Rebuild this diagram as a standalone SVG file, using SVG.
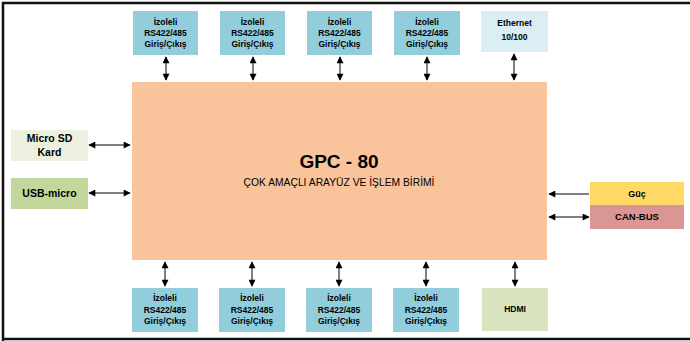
<svg xmlns="http://www.w3.org/2000/svg" width="690" height="341" viewBox="0 0 690 341">
<defs>
<marker id="ah" viewBox="0 0 10 10" refX="9" refY="5" markerWidth="8" markerHeight="7" markerUnits="userSpaceOnUse" orient="auto-start-reverse">
<path d="M0,0 L10,5 L0,10 z" fill="#000"/>
</marker>
<style>
.t{font-family:"Liberation Sans",Arial,sans-serif;font-weight:bold;text-anchor:middle;fill:#000}
.s8{font-size:8.5px}
.io{fill:#92CDDC}
.c{stroke:#000;stroke-width:1;fill:none;marker-end:url(#ah)}
.d{marker-start:url(#ah)}
</style>
</defs>
<rect width="690" height="341" fill="#fff"/>
<path d="M3,341 V3 H690 M3,339 H690" fill="none" stroke="#111" stroke-width="2.5"/>

<g id="main">
<rect x="132" y="82" width="415" height="178" fill="#F9C49B"/>
<text class="t" x="339" y="168" font-size="19">GPC - 80</text>
<text x="339" y="186" font-family="Liberation Sans,Arial,sans-serif" font-size="10.3" text-anchor="middle">ÇOK AMAÇLI ARAYÜZ VE İŞLEM BİRİMİ</text>
</g>

<g id="top1"><rect class="io" x="133" y="11" width="65" height="44"/><text class="t s8" x="165.5" y="25">İzoleli</text><text class="t s8" x="165.5" y="36">RS422/485</text><text class="t s8" x="165.5" y="47">Giriş/Çıkış</text></g>
<g id="top2"><rect class="io" x="220" y="11" width="65" height="44"/><text class="t s8" x="252.5" y="25">İzoleli</text><text class="t s8" x="252.5" y="36">RS422/485</text><text class="t s8" x="252.5" y="47">Giriş/Çıkış</text></g>
<g id="top3"><rect class="io" x="307" y="11" width="65" height="44"/><text class="t s8" x="339.5" y="25">İzoleli</text><text class="t s8" x="339.5" y="36">RS422/485</text><text class="t s8" x="339.5" y="47">Giriş/Çıkış</text></g>
<g id="top4"><rect class="io" x="394" y="11" width="66" height="44"/><text class="t s8" x="427" y="25">İzoleli</text><text class="t s8" x="427" y="36">RS422/485</text><text class="t s8" x="427" y="47">Giriş/Çıkış</text></g>
<g id="ethernet"><rect x="481" y="11" width="67" height="41" fill="#DAEEF3"/><text class="t s8" x="514.5" y="26">Ethernet</text><text class="t s8" x="514.5" y="40">10/100</text></g>

<g id="bot1"><rect class="io" x="132" y="288" width="66" height="44"/><text class="t s8" x="165" y="301">İzoleli</text><text class="t s8" x="165" y="313">RS422/485</text><text class="t s8" x="165" y="324">Giriş/Çıkış</text></g>
<g id="bot2"><rect class="io" x="219" y="288" width="66" height="44"/><text class="t s8" x="252" y="301">İzoleli</text><text class="t s8" x="252" y="313">RS422/485</text><text class="t s8" x="252" y="324">Giriş/Çıkış</text></g>
<g id="bot3"><rect class="io" x="306" y="288" width="66" height="44"/><text class="t s8" x="339" y="301">İzoleli</text><text class="t s8" x="339" y="313">RS422/485</text><text class="t s8" x="339" y="324">Giriş/Çıkış</text></g>
<g id="bot4"><rect class="io" x="393" y="288" width="66" height="44"/><text class="t s8" x="426" y="301">İzoleli</text><text class="t s8" x="426" y="313">RS422/485</text><text class="t s8" x="426" y="324">Giriş/Çıkış</text></g>
<g id="hdmi"><rect x="482" y="288" width="66" height="43" fill="#D7E4BD"/><text class="t s8" x="515" y="312">HDMI</text></g>

<g id="microsd"><rect x="11" y="130" width="77" height="31" fill="#EBF1DE"/><text class="t" font-size="10.5" x="49.5" y="142">Micro SD</text><text class="t" font-size="10.5" x="49.5" y="156">Kard</text></g>
<g id="usb"><rect x="11" y="178" width="77" height="31" fill="#C3D69B"/><text class="t" font-size="10.5" x="49.5" y="197">USB-micro</text></g>

<g id="guc"><rect x="590" y="182" width="94" height="23" fill="#FFD966"/><text class="t" font-size="9" x="637" y="197">Güç</text></g>
<g id="canbus"><rect x="590" y="205" width="94" height="24" fill="#DA9694"/><text class="t" font-size="9.5" x="637" y="220">CAN-BUS</text></g>

<g id="connectors">
<path class="c d" d="M166,57 V80"/>
<path class="c d" d="M253,57 V80"/>
<path class="c d" d="M340,57 V80"/>
<path class="c d" d="M427,57 V80"/>
<path class="c d" d="M514,54 V80"/>
<path class="c d" d="M165,262 V286"/>
<path class="c d" d="M252,262 V286"/>
<path class="c d" d="M339,262 V286"/>
<path class="c d" d="M426,262 V286"/>
<path class="c d" d="M515,262 V286"/>
<path class="c d" d="M89,145 H130"/>
<path class="c d" d="M89,193 H130"/>
<path class="c" d="M589,194 H549"/>
<path class="c d" d="M549,217 H589"/>
</g>
</svg>
